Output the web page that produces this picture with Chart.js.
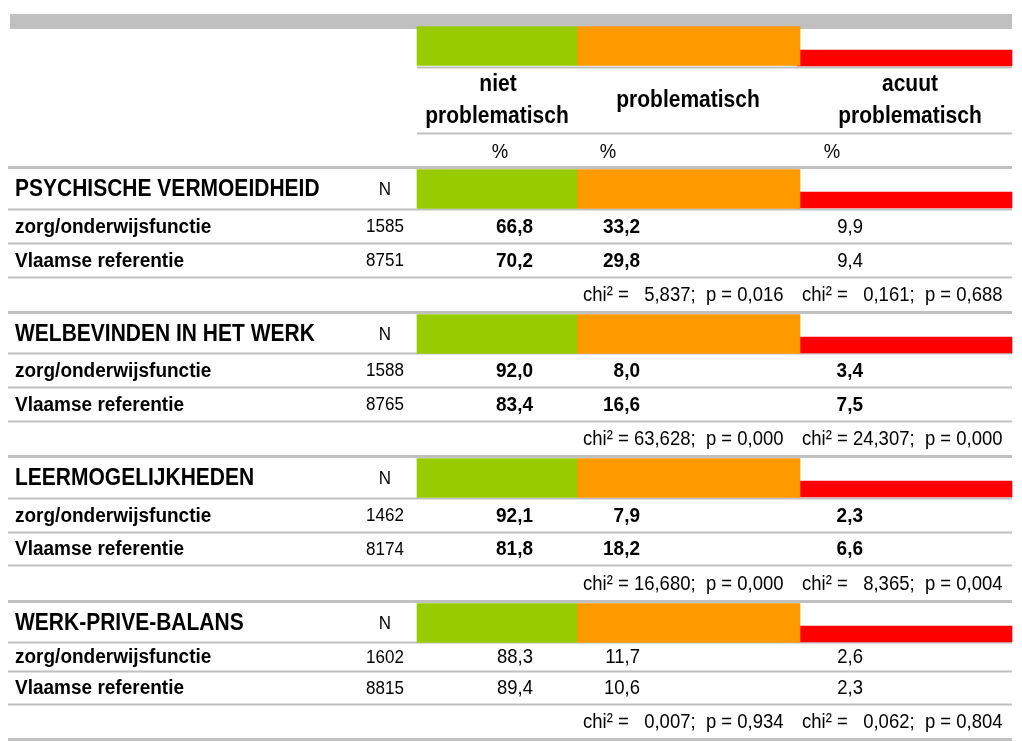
<!DOCTYPE html>
<html>
<head>
<meta charset="utf-8">
<script src="https://cdn.jsdelivr.net/npm/chart.js@4.4.1/dist/chart.umd.min.js"></script>
<style>
  body { margin: 0; background: #fff; }
  #wrap { width: 1022px; height: 741px; }
</style>
</head>
<body>
<div id="wrap"><canvas id="tableChart" width="1022" height="741"></canvas></div>
<script>
var sections = ["PSYCHISCHE VERMOEIDHEID", "WELBEVINDEN IN HET WERK", "LEERMOGELIJKHEDEN", "WERK-PRIVE-BALANS"];
var groups = ["zorg/onderwijsfunctie", "Vlaamse referentie"];
var columns = ["niet problematisch", "problematisch", "acuut problematisch"];

var nZorg = [1585, 1588, 1462, 1602];
var nVlaams = [8751, 8765, 8174, 8815];
var nietZorg = [66.8, 92.0, 92.1, 88.3];
var nietVlaams = [70.2, 83.4, 81.8, 89.4];
var probZorg = [33.2, 8.0, 7.9, 11.7];
var probVlaams = [29.8, 16.6, 18.2, 10.6];
var acuutZorg = [9.9, 3.4, 2.3, 2.6];
var acuutVlaams = [9.4, 7.5, 6.6, 2.3];
var chiProb = [5.837, 63.628, 16.680, 0.007];
var pProb = [0.016, 0.000, 0.000, 0.934];
var chiAcuut = [0.161, 24.307, 8.365, 0.062];
var pAcuut = [0.688, 0.000, 0.004, 0.804];

// layout (pixels in the 1022x741 frame)
var secTop = [167, 312, 456, 601];
var secLines = [[209, 243, 277, 312], [353, 387, 421, 456], [498, 532, 565, 601], [642, 671, 704, 739]];
var colGreen = [417, 577], colOrange = [577, 800], colRed = [797, 1012];
var lineCol = "#c0c0c0";
var FAM = "'Liberation Sans', Arial, sans-serif";

function fmt1(v) { return v.toFixed(1).replace(".", ","); }
function fmt3(v) { return v.toFixed(3).replace(".", ","); }

// bands: header + one per section
var bandTops = [23].concat(secTop);
function band(range, off) {
  return bandTops.map(function(t, i) {
    return { x: range, y: i == 0 ? off.h : t + off.s };
  });
}

var tablePlugin = {
  id: "table",
  beforeDatasetsDraw: function(chart) {
    var ctx = chart.ctx, sx = chart.scales.x, sy = chart.scales.y;
    function hline(x0, x1, y, t) {
      ctx.fillRect(sx.getPixelForValue(x0), sy.getPixelForValue(y) - t / 2, sx.getPixelForValue(x1) - sx.getPixelForValue(x0), t);
    }
    ctx.save();
    ctx.fillStyle = lineCol;
    ctx.fillRect(sx.getPixelForValue(10), sy.getPixelForValue(14), sx.getPixelForValue(1012) - sx.getPixelForValue(10), 15);
    hline(417, 1012, 67.5, 2);
    hline(417, 1012, 133.5, 2);
    hline(8, 1012, 167.5, 3);
    for (var i = 0; i < secLines.length; i++) {
      var L = secLines[i];
      hline(8, 1012, L[0] + 0.5, 2);
      hline(8, 1012, L[1] + 0.5, 2);
      hline(8, 1012, L[2] + 0.5, 2);
      hline(8, 1012, L[3] + 0.5, 3);
    }
    ctx.restore();
  },
  afterDatasetsDraw: function(chart) {
    var ctx = chart.ctx, sx = chart.scales.x, sy = chart.scales.y;
    function txt(s, x, y, font, align) {
      ctx.save();
      ctx.font = font;
      ctx.textAlign = align || "left";
      ctx.textBaseline = "middle";
      ctx.fillStyle = "#000";
      ctx.translate(sx.getPixelForValue(x), sy.getPixelForValue(y));
      ctx.scale(1, 1.1);
      ctx.fillText(s, 0, 0);
      ctx.restore();
    }
    var bold21 = "bold 21px " + FAM, bold19 = "bold 19px " + FAM;
    var reg18 = "18.5px " + FAM, reg17 = "17px " + FAM;

    // column headers
    txt("niet", 498, 85, bold21, "center");
    txt("problematisch", 497, 117, bold21, "center");
    txt(columns[1], 688, 101, bold21, "center");
    txt("acuut", 910, 85, bold21, "center");
    txt("problematisch", 910, 117, bold21, "center");
    txt("%", 500, 152, reg18, "center");
    txt("%", 608, 152, reg18, "center");
    txt("%", 832, 152, reg18, "center");

    ctx.save();
    ctx.font = reg18;
    var chiW = ctx.measureText("chi² = 00,000").width;
    ctx.restore();

    for (var i = 0; i < sections.length; i++) {
      var T = secTop[i], L = secLines[i];
      var r1 = (L[0] + L[1]) / 2 + 1, r2 = (L[1] + L[2]) / 2 + 1, rc = (L[2] + L[3]) / 2 + 1;
      txt(sections[i], 15, T + 23, bold21, "left");
      txt("N", 385, T + 23, reg17, "center");
      txt(groups[0], 15, r1, bold19, "left");
      txt(groups[1], 15, r2, bold19, "left");
      txt(String(nZorg[i]), 385, r1, reg17, "center");
      txt(String(nVlaams[i]), 385, r2, reg17, "center");

      var fP = pProb[i] < 0.05 ? bold19 : reg18;
      var fA = pAcuut[i] < 0.05 ? bold19 : reg18;
      txt(fmt1(nietZorg[i]), 533, r1, fP, "right");
      txt(fmt1(nietVlaams[i]), 533, r2, fP, "right");
      txt(fmt1(probZorg[i]), 640, r1, fP, "right");
      txt(fmt1(probVlaams[i]), 640, r2, fP, "right");
      txt(fmt1(acuutZorg[i]), 863, r1, fA, "right");
      txt(fmt1(acuutVlaams[i]), 863, r2, fA, "right");

      // chi² rows
      [[583, chiProb[i], pProb[i]], [802, chiAcuut[i], pAcuut[i]]].forEach(function(c) {
        txt("chi² =", c[0], rc, reg18, "left");
        txt(fmt3(c[1]), c[0] + chiW, rc, reg18, "right");
        txt(";  p = " + fmt3(c[2]), c[0] + chiW, rc, reg18, "left");
      });
    }
  }
};

var ctx = document.getElementById("tableChart");

var tableChart = new Chart(ctx, {
  type: "bar",
  data: {
    datasets: [
      {
        label: columns[0],
        data: band(colGreen, { h: 46, s: 22 }),
        backgroundColor: "#99cc00",
        barThickness: 39,
        grouped: false,
        borderWidth: 0
      },
      {
        label: columns[1],
        data: band(colOrange, { h: 46, s: 22 }),
        backgroundColor: "#ff9900",
        barThickness: 39,
        grouped: false,
        borderWidth: 0
      },
      {
        label: columns[2],
        data: band(colRed, { h: 58, s: 33 }),
        backgroundColor: "#ff0000",
        barThickness: 16,
        grouped: false,
        borderWidth: 0
      }
    ]
  },
  options: {
    indexAxis: "y",
    responsive: false,
    animation: false,
    layout: { padding: 0 },
    plugins: { legend: { display: false }, tooltip: { enabled: false } },
    scales: {
      x: { type: "linear", min: 0, max: 1022, display: false, offset: false },
      y: { type: "linear", min: 0, max: 741, reverse: true, display: false, offset: false }
    }
  },
  plugins: [tablePlugin]
});
</script>
</body>
</html>
